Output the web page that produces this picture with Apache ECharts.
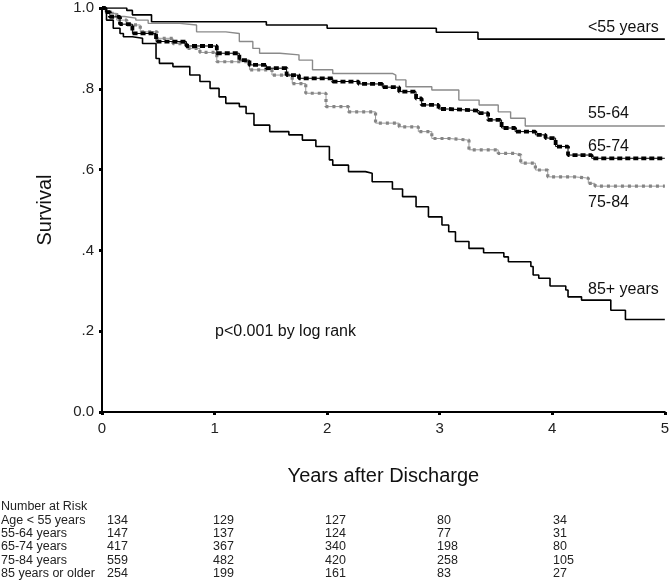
<!DOCTYPE html>
<html><head><meta charset="utf-8">
<script src="https://cdn.jsdelivr.net/npm/echarts@6/dist/echarts.min.js"></script>
<style>html,body{margin:0;padding:0;background:#fff}#c{width:672px;height:582px}</style>
</head><body><div id="c"></div>
<script>
// ---- Data ----
var yTickLabels = {0:'0.0', 0.2:'.2', 0.4:'.4', 0.6:'.6', 0.8:'.8', 1:'1.0'};
var xTickLabels = ['0','1','2','3','4','5'];

var tLt55 = [0, 0.22, 0.27, 0.44, 1.46, 2.0, 2.97, 3.34, 5];
var sLt55 = [1.0, 0.994, 0.983, 0.966, 0.958, 0.950, 0.940, 0.923, 0.923];

var t5564 = [0,0.04,0.08,0.14,0.2,0.3,0.41,0.69,0.84,1.1,1.22,1.34,1.4,1.58,1.75,1.87,2.05,2.58,2.61,2.7,2.93,3.17,3.35,3.52,3.63,3.76,5];
var s5564 = [1,0.993,0.986,0.979,0.975,0.97,0.962,0.958,0.941,0.937,0.917,0.900,0.888,0.884,0.871,0.847,0.838,0.834,0.822,0.805,0.797,0.772,0.76,0.743,0.727,0.708,0.708];

var t6574 = [0,0.03,0.07,0.16,0.27,0.48,0.75,1.02,1.22,1.31,1.46,1.64,1.75,2.05,2.28,2.49,2.64,2.79,2.84,2.99,3.08,3.35,3.43,3.55,3.67,3.85,3.94,4.03,4.14,4.35,5];
var s6574 = [1,0.99,0.978,0.96,0.937,0.917,0.906,0.888,0.871,0.859,0.851,0.834,0.826,0.818,0.812,0.804,0.793,0.776,0.76,0.75,0.746,0.740,0.723,0.703,0.694,0.686,0.678,0.657,0.636,0.628,0.628];

var t7584 = [0,0.04,0.13,0.22,0.34,0.49,0.63,0.75,0.87,1.02,1.31,1.51,1.69,1.81,1.99,2.19,2.43,2.64,2.81,2.93,3.08,3.26,3.52,3.67,3.72,3.85,3.96,4.08,4.2,4.32,4.38,5];
var s7584 = [1,0.987,0.97,0.958,0.941,0.925,0.912,0.9,0.89,0.867,0.847,0.834,0.813,0.789,0.756,0.743,0.715,0.706,0.694,0.677,0.673,0.649,0.640,0.636,0.616,0.599,0.582,0.582,0.579,0.566,0.559,0.559];

var t85 = [0,0.04,0.1,0.16,0.19,0.27,0.36,0.48,0.51,0.63,0.78,0.87,0.96,1.04,1.1,1.22,1.28,1.35,1.49,1.66,1.78,1.9,2.02,2.05,2.19,2.34,2.4,2.58,2.67,2.79,2.9,3.02,3.08,3.14,3.26,3.39,3.57,3.61,3.81,3.83,3.88,3.98,4.12,4.14,4.26,4.52,4.65,5];
var s85 = [1,0.97,0.95,0.937,0.929,0.925,0.912,0.875,0.863,0.855,0.834,0.818,0.801,0.78,0.764,0.756,0.739,0.71,0.694,0.686,0.673,0.657,0.624,0.611,0.595,0.591,0.57,0.552,0.533,0.508,0.483,0.463,0.446,0.422,0.405,0.394,0.384,0.372,0.36,0.339,0.331,0.312,0.302,0.285,0.277,0.252,0.229,0.229];

var curveLabels = ['<55 years','55-64','65-74','75-84','85+ years'];
var riskTitle = 'Number at Risk';
var riskGroups = ['Age < 55 years','55-64 years','65-74 years','75-84 years','85 years or older'];
var riskLt55 = [134,129,127,80,34];
var risk5564 = [147,137,124,77,31];
var risk6574 = [417,367,340,198,80];
var risk7584 = [559,482,420,258,105];
var risk85   = [254,199,161,83,27];
var pText = 'p<0.001 by log rank';

// ---- Build ----
function zip(t,s){ return t.map(function(v,i){return [v,s[i]];}); }
var FONT = '"Liberation Sans", Arial, sans-serif';

function line(data, color, width, dash, z){
  return {type:'line', data:data, step:'end', symbol:'none', silent:true, z:z||2,
    lineStyle:{color:color, width:width, type:dash||'solid', cap:'butt'}};
}

var series = [
  line(zip(tLt55,sLt55), '#000', 1.6),
  line(zip(t5564,s5564), '#8a8a8a', 1.4),
  line(zip(t7584,s7584), '#9a9a9a', 1, 'solid', 3),
  line(zip(t7584,s7584), '#858585', 3.2, [3,4], 4),
  line(zip(t6574,s6574), '#000', 1, 'solid', 5),
  line(zip(t6574,s6574), '#000', 3.8, [5,3], 6),
  line(zip(t85,s85), '#000', 1.6, 'solid', 7)
];

var graphics = [];
var labelPos = [[588,28],[588,114],[588,147],[588,203],[588,290]];
curveLabels.forEach(function(l,i){
  graphics.push({type:'text', x:labelPos[i][0], y:labelPos[i][1],
    style:{text:l, font:'16px '+FONT, fill:'#111', verticalAlign:'middle', align:'left'}});
});
graphics.push({type:'text', x:215, y:332, style:{text:pText, font:'16px '+FONT, fill:'#111', verticalAlign:'middle'}});

var rowY = [521,534,547,561,574];
var colX = [107,213,325,437,553];
var riskRows = [riskLt55, risk5564, risk6574, risk7584, risk85];
var TF = '12.5px '+FONT;
graphics.push({type:'text', x:1, y:507, style:{text:riskTitle, font:TF, fill:'#222', verticalAlign:'middle'}});
riskGroups.forEach(function(g,i){
  graphics.push({type:'text', x:1, y:rowY[i], style:{text:g, font:TF, fill:'#222', verticalAlign:'middle'}});
  riskRows[i].forEach(function(v,j){
    graphics.push({type:'text', x:colX[j], y:rowY[i], style:{text:String(v), font:TF, fill:'#222', verticalAlign:'middle'}});
  });
});

var chart = echarts.init(document.getElementById('c'), null, {renderer:'canvas'});
chart.setOption({
  animation:false,
  backgroundColor:'#fff',
  grid:{left:102, top:8, right:5, bottom:170, containLabel:false},
  xAxis:{type:'value', min:0, max:5, interval:1,
    name:'Years after Discharge', nameLocation:'middle', nameGap:54,
    nameTextStyle:{fontSize:20, fontFamily:FONT, color:'#111'},
    axisLine:{show:true, onZero:false, lineStyle:{color:'#000', width:2}},
    axisTick:{show:true, length:3, lineStyle:{color:'#000', width:3}},
    axisLabel:{fontSize:15, fontFamily:FONT, color:'#222', margin:9,
      formatter:function(v){return xTickLabels[Math.round(v)];}},
    splitLine:{show:false}},
  yAxis:{type:'value', min:0, max:1, interval:0.2,
    name:'Survival', nameLocation:'middle', nameGap:47, nameRotate:90,
    nameTextStyle:{fontSize:20, fontFamily:FONT, color:'#111'},
    axisLine:{show:true, onZero:false, lineStyle:{color:'#000', width:2}},
    axisTick:{show:true, length:3, lineStyle:{color:'#000', width:3}},
    axisLabel:{fontSize:15, fontFamily:FONT, color:'#222', margin:8,
      formatter:function(v){return yTickLabels[Math.round(v*10)/10];}},
    splitLine:{show:false}},
  series:series,
  graphic:graphics
});
</script></body></html>
